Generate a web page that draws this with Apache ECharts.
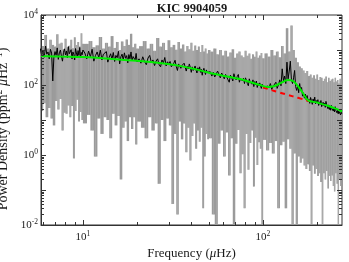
<!DOCTYPE html>
<html><head><meta charset="utf-8">
<script src="https://cdn.jsdelivr.net/npm/echarts@6/dist/echarts.min.js"></script>
<style>html,body{margin:0;padding:0;background:#fff}#c{width:349px;height:262px}</style>
</head><body><div id="c"></div>
<script>
// Frequencies (muHz) of the sampled spectrum
const freq = [
5.8,5.9,6,6.1,6.2,6.3,6.4,6.5,6.6,6.7,6.8,6.9,7,7.1,7.2,7.3,7.4,7.5,7.6,7.7,7.8,7.9,8,8.1,8.2,8.3,8.4,8.5,8.6,8.7,8.8,8.9,9,9.1,9.2,9.3,9.4,9.5,9.6,9.7,9.8,9.9,10,
10.25,10.5,10.75,11,11.25,11.5,11.75,12,12.25,12.5,12.75,13,13.25,13.5,13.75,14,14.25,14.5,14.75,15,15.25,15.5,15.75,16,16.25,16.5,16.75,17,17.25,17.5,17.75,18,18.25,18.5,18.75,19,19.25,19.5,19.75,20,
20.5,21,21.5,22,22.5,23,23.5,24,24.5,25,25.5,26,26.5,27,27.5,28,28.5,29,29.5,30,30.5,31,31.5,32,32.5,33,33.5,34,34.5,35,35.5,36,36.5,37,37.5,38,38.5,39,39.5,40,40.5,41,41.5,42,42.5,43,43.5,44,44.5,45,45.5,46,46.5,47,47.5,48,48.5,49,49.5,50,
51,52,53,54,55,56,57,58,59,60,61,62,63,64,65,66,67,68,69,70,71,72,73,74,75,76,77,78,79,80,81,82,83,84,85,86,87,88,89,90,91,92,93,94,95,96,97,98,99,100,
102,104,106,108,110,112,114,116,118,120,122,124,126,128,130,132,134,136,138,140,142,144,146,148,150,152,154,156,158,160,162,164,166,168,170,172,174,176,178,180,182,184,186,188,190,192,194,196,198,200,202,204,206,208,210,212,214,216,218,220,222,224,226,228,230,232,234,236,238,240,242,244,246,248,250,252,254,256,258,260,262,264,266,268,270,272,274,276
];
// Raw power spectrum (grey)
const grayPower = [
1600,18,1300,30,2700,12,1100,22,1950,11,1400,7,1250,35,2800,20,1500,40,1600,5,1050,16,2100,15,1200,26,1330,12,1960,25,1120,0.8,2300,18,1400,38,1680,9,1250,17,3000,10,1500,
8,1500,14,1800,5,1200,0.9,1360,11,2350,4,1100,12,1600,10,1250,3,2500,15,1150,7,1700,13,1000,0.2,1760,6,1300,9,2000,2.5,1400,12,2900,5.5,1200,12,1500,2,1100,
9,1290,6,1800,3,1100,12,1500,5,950,8,2200,0.15,1250,10,1600,2.5,1000,11,1900,7,1190,0.04,1400,4,1015,0.02,1700,9,1100,2.8,1435,8,900,1.2,1300,6,1050,0.7,1600,3.5,950,8,1350,1.5,1000,5,1250,2.4,880,6,1400,0.03,900,0.9,1100,4,800,2.8,1000,
3,900,0.02,1100,0.005,750,2.1,1000,5,700,0.9,950,4.4,650,0.26,850,3,1050,0.005,600,2.1,800,5.2,900,0.3,700,1.05,620,0.03,950,4,680,0.38,800,2.2,560,5,750,0.125,640,3.1,900,0.52,600,2.3,700,1.5,820,0.005,580,
2.7,800,1.35,650,2.2,1000,1.1,700,2.5,900,0.03,620,1.9,1300,2.4,800,0.03,4200,2.8,900,1.5,5000,0.004,1000,1.1,600,0.005,450,0.9,340,0.6,300,0.8,260,0.5,220,0.4,250,0.54,180,0.35,200,0.004,160,0.5,190,0.29,150,0.4,200,0.25,140,0.3,170,0.17,160,0.006,130,0.3,150,0.2,174,0.35,120,0.11,160,0.25,130,0.18,143,0.26,150,0.13,120,0.09,160,0.3,125,0.15,140,0.005,110,0.2,150,0.13,110,0.25,130
];
// Smoothed power spectrum (black)
const blackPower = [
1100,700,950,620,1300,760,880,560,1050,820,130,640,900,700,1150,540,830,1000,650,480,860,1080,720,940,600,1250,780,690,1020,560,880,740,520,1100,820,640,960,700,1180,590,850,730,1000,
820,560,930,640,1050,480,700,880,600,990,520,760,680,900,450,620,780,540,850,470,700,600,920,400,640,760,510,830,580,690,430,740,560,880,490,650,720,520,800,460,
560,420,640,470,380,590,700,440,520,360,480,560,380,330,520,430,610,350,460,400,470,330,290,420,510,340,260,400,450,300,360,330,420,380,250,340,290,400,320,230,330,260,300,350,270,220,310,250,330,230,280,190,260,300,240,200,270,230,250,210,
240,180,230,170,150,250,200,160,220,185,150,200,170,140,120,190,165,130,210,160,140,175,200,120,150,170,130,155,110,160,135,110,95,150,120,130,105,140,90,125,100,130,85,110,95,115,125,80,105,92,
100,78,95,82,110,75,92,85,120,80,100,140,95,290,130,180,110,450,150,250,480,140,110,160,260,90,70,95,60,110,70,85,48,60,42,55,38,50,34,40,30,44,36,28,40,32,45,29,36,31,38,26,33,28,36,24,22,32,26,30,23,34,27,29,21,27,20,24,19,26,21,23,18,22,17,24,19,20,16,19,15,18,16,20,14,17,15,16
];
// Full fit: background + oscillation hump (green)
const fitFreq  = [5.85,7.45,10,12.4,17.1,23.6,32.4,39.3,44.7,54.1,65.6,74.5,84.7,96.2,106.6,113,119.7,129,137.7,146.8,156.5,166.8,177.8,199.5,226.8,257.8,275];
const fitPower = [675,650,630,590,520,454,373,306,262,205,169,148,122,100,88,90,100,122,139,130,93,59,37,31.5,26,20.5,17.5];
// Background only (red dashed)
const bgFreq  = [100,106.6,121,137.7,156.5,180];
const bgPower = [85,77,63,52,43,35];
// Axis ticks and labels
const xTickValues = [6,7,8,9,10,20,30,40,50,60,70,80,90,100,200];
const yTickValues = [0.01,0.02,0.03,0.04,0.05,0.06,0.07,0.08,0.09,0.1,0.2,0.3,0.4,0.5,0.6,0.7,0.8,0.9,1,2,3,4,5,6,7,8,9,10,20,30,40,50,60,70,80,90,100,200,300,400,500,600,700,800,900,1000,2000,3000,4000,5000,6000,7000,8000,9000,10000];
const xLabelExps = [1, 2];
const yLabelExps = [-2, 0, 2, 4];

const SERIF = 'Liberation Serif';
const TXT = '#1a1a1a';
const AX = '#333';

function zip(a, b) { const out = []; for (let i = 0; i < Math.min(a.length, b.length); i++) out.push([a[i], b[i]]); return out; }
// consecutive sample pairs of the raw spectrum: [f_i, p_i, f_i+1, p_i+1]
function pairs(a, b) { const out = []; for (let i = 0; i + 1 < Math.min(a.length, b.length); i++) out.push([a[i], b[i], a[i + 1], b[i + 1]]); return out; }
function expLabel(list) {
  return function (v) {
    const l = Math.log10(v), e = Math.round(l);
    if (Math.abs(l - e) > 1e-6 || list.indexOf(e) < 0) return '';
    return '{b|10}{s|' + e + '}';
  };
}
const labelRich = {
  b: { fontFamily: SERIF, fontSize: 11, color: TXT, lineHeight: 14 },
  s: { fontFamily: SERIF, fontSize: 7.5, color: TXT, lineHeight: 8, verticalAlign: 'top' }
};
function nameRich(fs) {
  return {
    n: { fontFamily: SERIF, fontSize: fs, color: TXT, lineHeight: fs + 3 },
    i: { fontFamily: SERIF, fontSize: fs, color: TXT, lineHeight: fs + 3, fontStyle: 'italic' },
    s: { fontFamily: SERIF, fontSize: fs * 0.7, color: TXT, lineHeight: fs * 0.7, verticalAlign: 'top' }
  };
}
function isMajor(v) { const l = Math.log10(v); return Math.abs(l - Math.round(l)) < 1e-6; }

// grey spectrum: each step between consecutive samples drawn as a filled column
function specItem(params, api) {
  const a = api.coord([api.value(0), api.value(1)]);
  const b = api.coord([api.value(2), api.value(3)]);
  const cs = params.coordSys;
  const x0 = Math.max(cs.x, Math.min(a[0], b[0]));
  const x1 = Math.min(cs.x + cs.width, Math.max(a[0], b[0]));
  if (x1 <= x0) return null;
  const yTop = Math.max(cs.y, Math.min(a[1], b[1]));
  const yBot = Math.min(cs.y + cs.height, Math.max(a[1], b[1]));
  if (yBot <= yTop) return null;
  return { type: 'rect', shape: { x: x0, y: yTop, width: x1 - x0 + 0.25, height: yBot - yTop },
           style: { fill: '#9b9b9b' } };
}
function xTickItem(params, api) {
  const v = api.value(0);
  const p = api.coord([v, 1]);
  const cs = params.coordSys;
  const L = isMajor(v) ? 5 : 3;
  const x = Math.round(p[0]) + 0.5;
  const b = cs.y + cs.height, t = cs.y;
  return { type: 'group', children: [
    { type: 'line', shape: { x1: x, y1: b, x2: x, y2: b - L }, style: { stroke: AX, lineWidth: 1 } },
    { type: 'line', shape: { x1: x, y1: t, x2: x, y2: t + L }, style: { stroke: AX, lineWidth: 1 } }
  ]};
}
function yTickItem(params, api) {
  const v = api.value(1);
  const p = api.coord([10, v]);
  const cs = params.coordSys;
  const L = isMajor(v) ? 5 : 3;
  const y = Math.round(p[1]) + 0.5;
  const l = cs.x, r = cs.x + cs.width;
  return { type: 'group', children: [
    { type: 'line', shape: { x1: l, y1: y, x2: l + L, y2: y }, style: { stroke: AX, lineWidth: 1 } },
    { type: 'line', shape: { x1: r, y1: y, x2: r - L, y2: y }, style: { stroke: AX, lineWidth: 1 } }
  ]};
}

const chart = echarts.init(document.getElementById('c'), null, { renderer: 'canvas' });
chart.setOption({
  animation: false,
  backgroundColor: '#fff',
  title: {
    text: 'KIC 9904059', left: 192, top: 2, textAlign: 'center', padding: 0,
    textStyle: { fontFamily: SERIF, fontWeight: 'bold', fontSize: 12.5, color: TXT }
  },
  grid: { left: 41, right: 7, top: 15, bottom: 37, show: true, borderColor: AX, borderWidth: 1, outerBoundsMode: 'none' },
  xAxis: {
    type: 'log', logBase: 10, min: 5.85, max: 275, z: 5,
    axisLine: { show: true, lineStyle: { color: AX, width: 1 } },
    axisTick: { show: false }, splitLine: { show: false }, minorTick: { show: false },
    axisLabel: { formatter: expLabel(xLabelExps), margin: 5, rich: labelRich },
    name: '{n|Frequency (}{i|μ}{n|Hz)}', nameLocation: 'middle', nameGap: 10,
    nameTextStyle: { rich: nameRich(13) }
  },
  yAxis: {
    type: 'log', logBase: 10, min: 0.01, max: 10000, z: 5,
    axisLine: { show: true, lineStyle: { color: AX, width: 1 } },
    axisTick: { show: false }, splitLine: { show: false }, minorTick: { show: false },
    axisLabel: { formatter: expLabel(yLabelExps), margin: 3, rich: labelRich },
    name: '{n|Power Density (ppm}{s|2}{n| }{i|μ}{n|Hz}{s|−1}{n|)}', nameLocation: 'middle', nameGap: 12, nameRotate: 90,
    nameTextStyle: { rich: nameRich(14), padding: [0, 18, 0, 0] }
  },
  series: [
    { name: 'spectrum', type: 'custom', data: pairs(freq, grayPower), renderItem: specItem, silent: true, z: 2,
      encode: { x: [0, 2], y: [1, 3] } },
    { name: 'smoothed', type: 'line', data: zip(freq, blackPower), showSymbol: false, symbol: 'none', silent: true,
      lineStyle: { color: '#000', width: 1 }, z: 3, clip: true },
    { name: 'background', type: 'line', data: zip(bgFreq, bgPower), showSymbol: false, symbol: 'none', silent: true, smooth: true,
      lineStyle: { color: '#ff0000', width: 2, type: [5, 4] }, z: 4, clip: true },
    { name: 'fit', type: 'line', data: zip(fitFreq, fitPower), showSymbol: false, symbol: 'none', silent: true, smooth: 0.4,
      lineStyle: { color: '#00ee00', width: 2 }, z: 5, clip: true },
    { name: 'xticks', type: 'custom', data: xTickValues.map(v => [v, 1]), renderItem: xTickItem, silent: true, z: 8 },
    { name: 'yticks', type: 'custom', data: yTickValues.map(v => [10, v]), renderItem: yTickItem, silent: true, z: 8 }
  ]
});
</script>
</body></html>
